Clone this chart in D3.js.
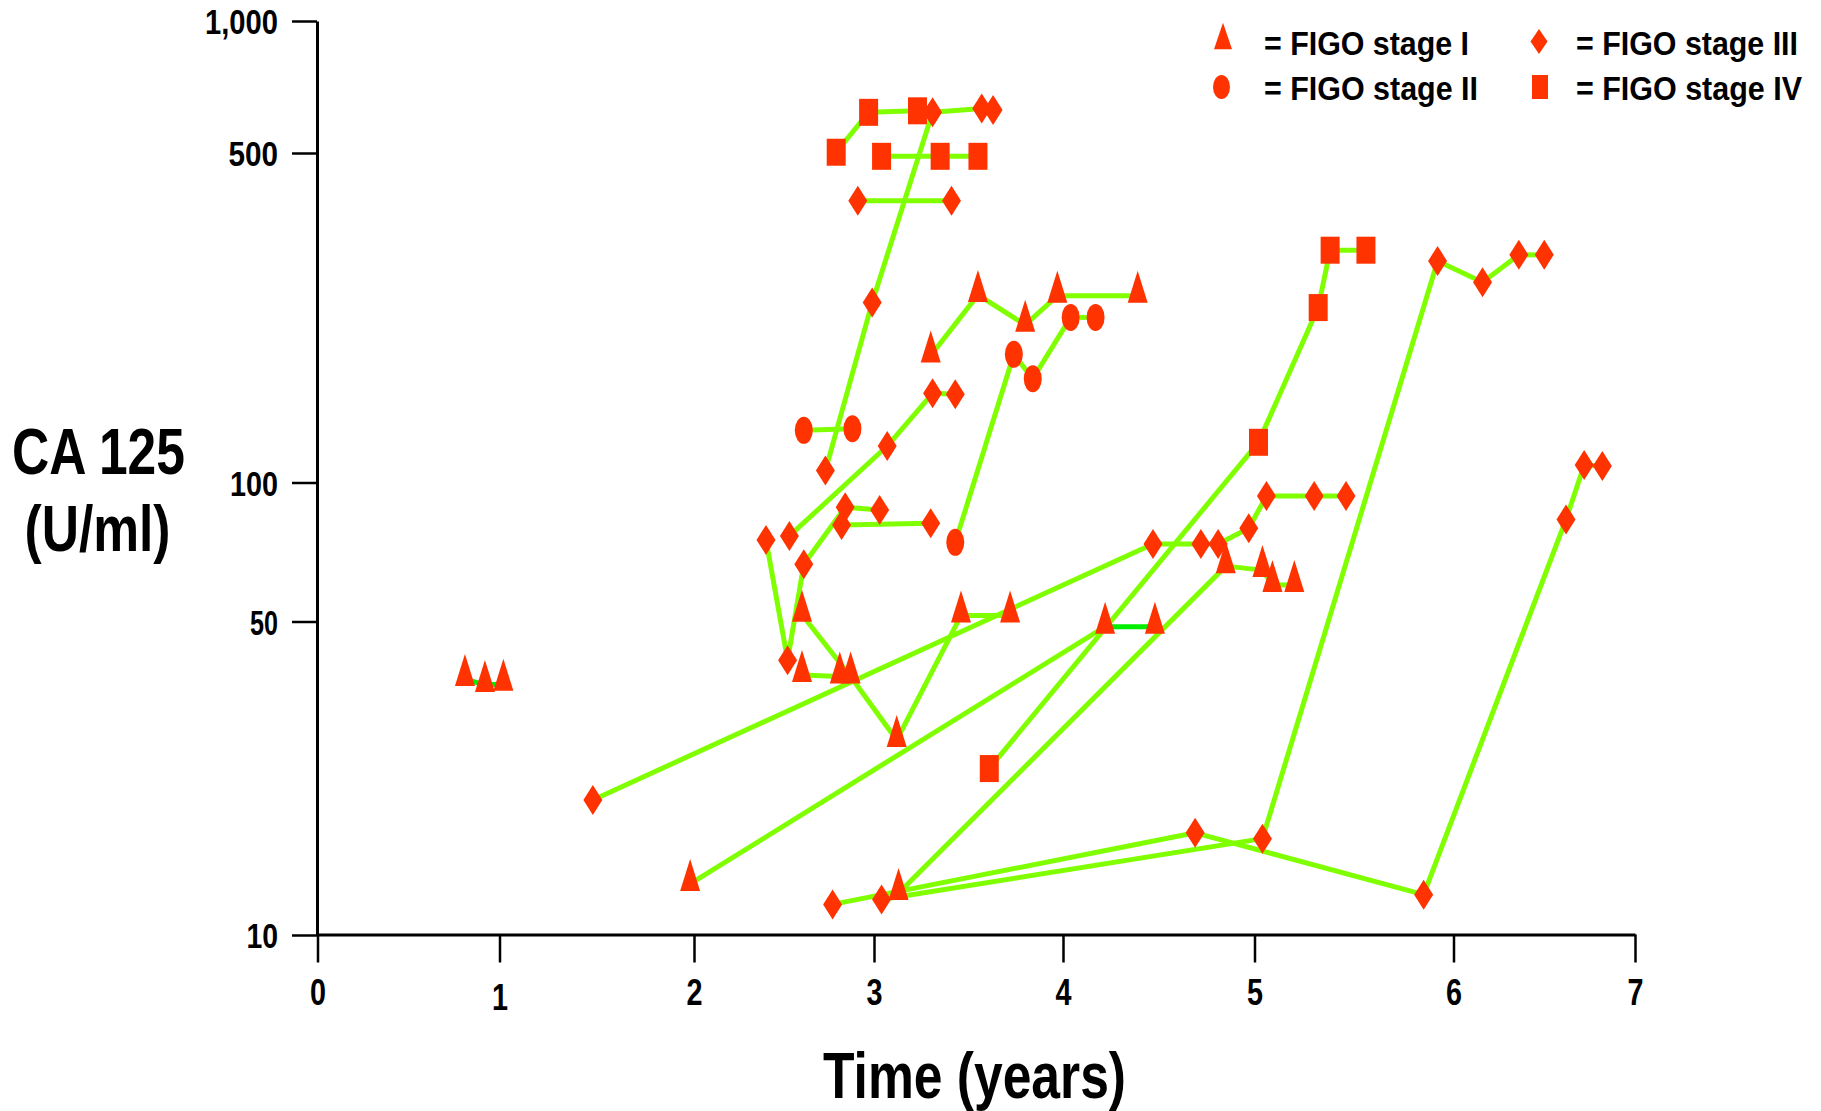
<!DOCTYPE html>
<html><head><meta charset="utf-8">
<script src="https://cdn.jsdelivr.net/npm/d3@7"></script>
<style>
html,body{margin:0;padding:0;background:#fff;}
svg text{font-family:'Liberation Sans',Arial,sans-serif;font-weight:bold;fill:#000;}
</style></head><body>
<svg id="chart" width="1821" height="1111"></svg>
<script>
// ---------------- DATA ----------------
const stageNames = ["FIGO stage I", "FIGO stage II", "FIGO stage III", "FIGO stage IV"];
const xTickValues = [0, 1, 2, 3, 4, 5, 6, 7];
const yTickValues = [10, 50, 100, 500, 1000];
const yTickLabels = ["10", "50", "100", "500", "1,000"];
const xAxisTitle = "Time (years)";
const yAxisTitle = ["CA 125", "(U/ml)"];

// FIGO stage (1..4) of each patient
const patientStage = [4, 3, 4, 3, 1, 2, 2, 3, 3, 3, 1, 1, 3, 1, 4, 1, 3, 3, 1];
// follow-up time (years) of each measurement, one list per patient
const patientYears = [
  [2.79, 2.97, 3.23],
  [2.73, 2.99, 3.31, 3.57, 3.63],
  [3.04, 3.35, 3.55],
  [2.91, 3.41],
  [3.30, 3.55, 3.80, 3.97, 4.39],
  [3.43, 3.74, 3.84, 4.04, 4.17],
  [2.61, 2.88],
  [2.53, 3.07, 3.31, 3.43],
  [2.40, 2.52, 2.61, 2.84, 3.03],
  [2.82, 3.30],
  [2.60, 2.81],
  [2.60, 2.87, 3.12, 3.46, 3.72],
  [1.48, 4.47, 4.72, 4.81, 4.97, 5.06, 5.30, 5.46],
  [1.98, 4.22, 4.48],
  [3.61, 5.02, 5.32, 5.38, 5.56],
  [3.13, 4.85, 5.04, 5.09, 5.20],
  [2.77, 4.69, 5.85, 6.62, 6.72, 6.82],
  [3.04, 5.04, 5.92, 6.16, 6.36, 6.50],
  [0.81, 0.92, 1.02]
];
// CA 125 (U/ml) of each measurement
const patientCA125 = [
  [502, 619, 624],
  [106, 241, 619, 632, 627],
  [492, 492, 492],
  [396, 396],
  [186, 250, 216, 249, 249],
  [74.2, 187, 166, 224, 224],
  [129, 130],
  [76.6, 119.5, 154.6, 153.8],
  [75.1, 41.0, 66.5, 88.4, 87.2],
  [80.9, 81.6],
  [38.0, 37.7],
  [51.7, 37.7, 27.2, 51.5, 51.5],
  [20.0, 73.6, 73.6, 73.6, 79.6, 93.5, 93.5, 93.5],
  [13.0, 48.7, 48.7],
  [23.5, 121.7, 235, 311, 311],
  [12.4, 65.9, 64.6, 60.0, 60.0],
  [11.7, 16.9, 12.3, 83.2, 108.9, 108.4],
  [12.0, 16.4, 295, 266, 304, 304],
  [37.2, 36.1, 36.3]
];

// ---------------- DRAWING ----------------
const svg = d3.select('#chart');
const x = d3.scaleLinear().domain(xTickValues)
  .range([317.5, 499.5, 694, 874, 1063, 1254.5, 1453.5, 1635]);
const y = d3.scaleLog().domain(yTickValues).range([935, 621.5, 482.5, 153, 21]);

const markerColor = '#ff3300';
const lineColor = '#80ff00';
const brightLine = '#00ee00';
// segments drawn in the brighter green (patient index -> segment indices)
const brightSegments = {13: [1], 18: [0, 1]};

// lines
const segs = [];
patientYears.forEach((yrs, p) => {
  for (let i = 0; i < yrs.length - 1; i++) {
    segs.push({p, i, x1: yrs[i], y1: patientCA125[p][i], x2: yrs[i+1], y2: patientCA125[p][i+1]});
  }
});
svg.append('g').selectAll('line').data(segs).join('line')
  .attr('x1', d => x(d.x1)).attr('y1', d => y(d.y1))
  .attr('x2', d => x(d.x2)).attr('y2', d => y(d.y2))
  .attr('stroke', d => (brightSegments[d.p] || []).includes(d.i) ? brightLine : lineColor)
  .attr('stroke-width', 5).attr('stroke-linecap', 'butt');

// axes
const yAxis = d3.axisLeft(y).tickValues(yTickValues)
  .tickFormat(d => yTickLabels[yTickValues.indexOf(d)])
  .tickSize(25).tickSizeOuter(0).tickPadding(14);
const gy = svg.append('g').attr('transform', 'translate(317,0)').call(yAxis);
gy.select('.domain').attr('stroke', '#000').attr('stroke-width', 3);
gy.selectAll('.tick line').attr('stroke', '#000').attr('stroke-width', 2.5);
const yLabW = {10: 31.6, 50: 28, 100: 48, 500: 49.5, 1000: 73};
gy.selectAll('.tick text').attr('font-size', 35).attr('dy', '0.36em')
  .attr('textLength', d => yLabW[d]).attr('lengthAdjust', 'spacingAndGlyphs');

const xAxis = d3.axisBottom(x).tickValues(xTickValues).tickFormat(d3.format('d'))
  .tickSize(28).tickSizeOuter(0);
const gx = svg.append('g').attr('transform', 'translate(0,934.5)').call(xAxis);
gx.select('.domain').attr('stroke', '#000').attr('stroke-width', 3);
gx.selectAll('.tick line').attr('stroke', '#000').attr('stroke-width', 2.5);
gx.selectAll('.tick text').attr('font-size', 37).attr('dy', 0)
  .attr('y', d => d === 1 ? 75 : 70)
  .attr('textLength', 16).attr('lengthAdjust', 'spacingAndGlyphs');

// markers
const shapes = {
  1: 'M0,-25L10,7L-10,7Z',
  2: 'M-9,0a9,13.5 0 1,0 18,0a9,13.5 0 1,0 -18,0Z',
  3: 'M0,-15L9.5,0L0,15L-9.5,0Z',
  4: 'M-9.5,-13.5h19v27h-19Z'
};
const pts = [];
patientYears.forEach((yrs, p) => yrs.forEach((t, i) => pts.push({s: patientStage[p], t, v: patientCA125[p][i]})));
svg.append('g').selectAll('path').data(pts).join('path')
  .attr('d', d => shapes[d.s])
  .attr('transform', d => `translate(${x(d.t)},${y(d.v)})`)
  .attr('fill', markerColor);

// legend
const legendShapes = {
  1: 'M0,-13.3L9,13.3L-9,13.3Z',
  2: 'M-8.5,0a8.5,12 0 1,0 17,0a8.5,12 0 1,0 -17,0Z',
  3: 'M0,-12.5L8.5,0L0,12.5L-8.5,0Z',
  4: 'M-8,-12h16v24h-16Z'
};
const legendLayout = [
  {mx: 1223, my: 36, tx: 1264, ty: 55, w: 205},
  {mx: 1221.5, my: 87, tx: 1264, ty: 99.5, w: 214},
  {mx: 1539, my: 41.5, tx: 1576, ty: 55, w: 222},
  {mx: 1540, my: 87, tx: 1576, ty: 99.5, w: 226}
];
const lg = svg.append('g');
stageNames.forEach((name, i) => {
  const L = legendLayout[i];
  lg.append('path').attr('d', legendShapes[i+1]).attr('transform', `translate(${L.mx},${L.my})`).attr('fill', markerColor);
  lg.append('text').attr('x', L.tx).attr('y', L.ty).attr('font-size', 32.5)
    .attr('textLength', L.w).attr('lengthAdjust', 'spacingAndGlyphs').text('= ' + name);
});

// axis titles
svg.append('text').attr('x', 974.5).attr('y', 1097.5).attr('text-anchor', 'middle')
  .attr('font-size', 65).attr('textLength', 303).attr('lengthAdjust', 'spacingAndGlyphs').text(xAxisTitle);
svg.append('text').attr('x', 98.5).attr('y', 474).attr('text-anchor', 'middle')
  .attr('font-size', 64).attr('textLength', 173).attr('lengthAdjust', 'spacingAndGlyphs').text(yAxisTitle[0]);
svg.append('text').attr('x', 97.5).attr('y', 551).attr('text-anchor', 'middle')
  .attr('font-size', 64).attr('textLength', 146).attr('lengthAdjust', 'spacingAndGlyphs').text(yAxisTitle[1]);
</script>
</body></html>
